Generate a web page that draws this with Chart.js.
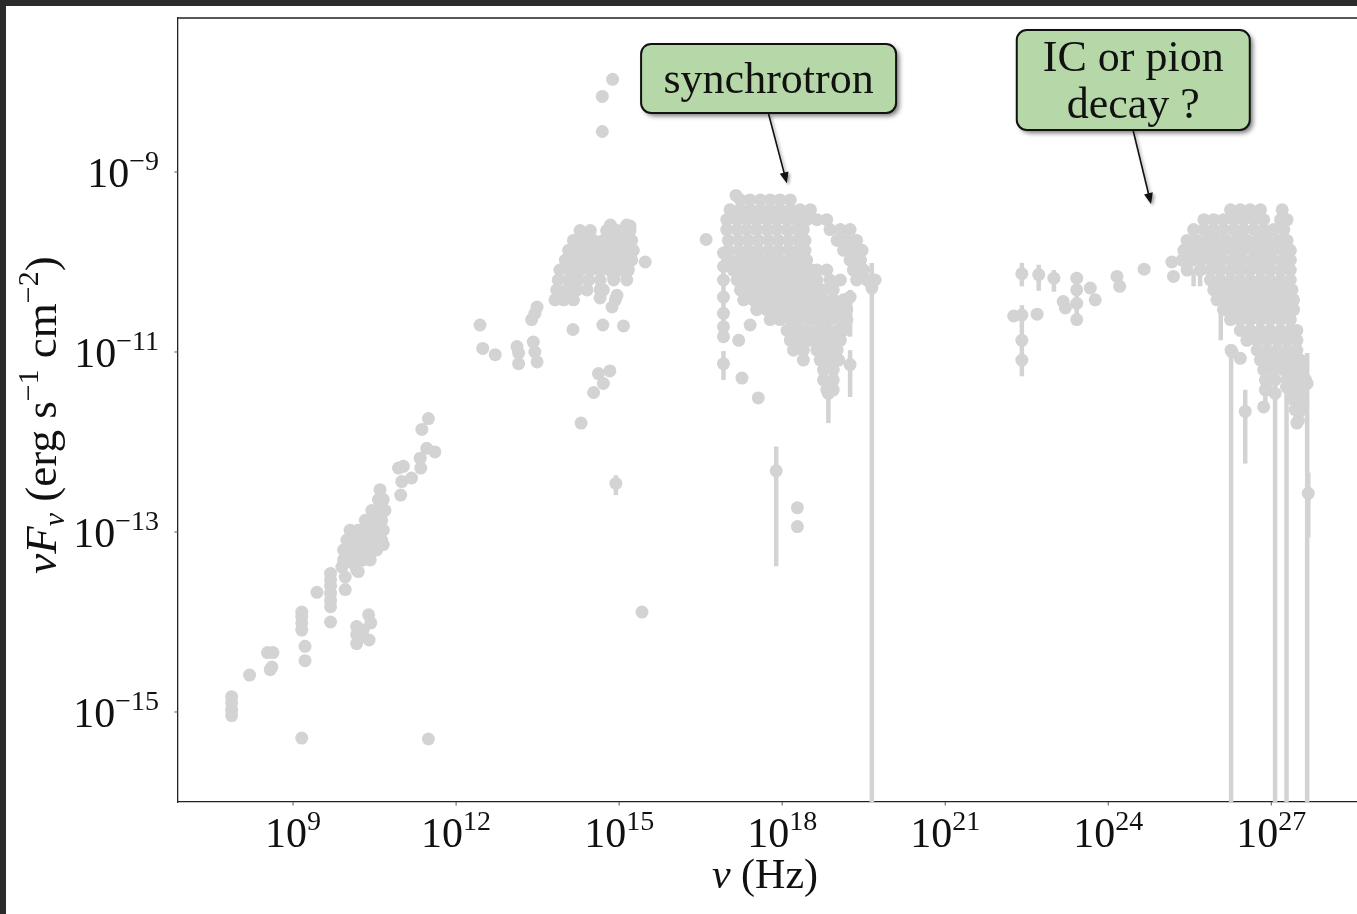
<!DOCTYPE html>
<html>
<head>
<meta charset="utf-8">
<script src="https://cdn.jsdelivr.net/npm/chart.js@4.4.1/dist/chart.umd.min.js"></script>
<style>
  html, body { margin: 0; padding: 0; width: 1357px; height: 914px; overflow: hidden; background: #2b2b2b; }
  #panel { position: absolute; left: 6px; top: 6px; width: 1394px; height: 908px; background: #fff; }
  canvas { display: block; }
</style>
</head>
<body>
<div id="panel"><canvas id="sedChart" width="1394" height="908"></canvas></div>
<script>
// all values are log10: [log nu (Hz), log nuFnu (erg s^-1 cm^-2)]
const radio = [
  [7.87,-14.83],[7.87,-14.90],[7.87,-14.98],[7.87,-15.04],[8.20,-14.59],
  [8.53,-14.34],[8.63,-14.34],[8.58,-14.53],[8.61,-14.50],
  [9.16,-13.89],[9.16,-13.94],[9.16,-14.01],[9.16,-14.09],[9.22,-14.27],[9.22,-14.43],[9.16,-15.29],
  [9.44,-13.67],[9.69,-13.46],[9.69,-13.53],[9.69,-13.60],[9.69,-13.68],[9.69,-13.76],[9.69,-13.83],[9.69,-14.00],
  [9.93,-13.35],[9.96,-13.50],[9.96,-13.64],
  [10.60,-12.53],[10.57,-12.64],[10.66,-12.64],[10.45,-12.76],[10.60,-12.76],[10.69,-12.76],
  [10.33,-12.87],[10.48,-12.87],[10.63,-12.87],
  [10.05,-12.98],[10.20,-12.98],[10.36,-12.98],[10.51,-12.98],[10.66,-12.98],
  [9.99,-13.09],[10.14,-13.09],[10.29,-13.09],[10.45,-13.09],[10.63,-13.09],
  [9.93,-13.20],[10.08,-13.20],[10.23,-13.20],[10.39,-13.20],[10.54,-13.20],
  [9.93,-13.31],[10.11,-13.31],[10.29,-13.31],[10.42,-13.31],
  [10.17,-13.42],[10.20,-13.44],[10.11,-13.35],[9.90,-13.39],[10.66,-13.14],[10.36,-13.27],
  [10.17,-14.05],[10.17,-14.14],[10.17,-14.24],[10.39,-13.92],[10.43,-14.01],[10.40,-14.20],[10.29,-14.09],[10.22,-14.18],
  [10.94,-12.29],[11.03,-12.27],[11.00,-12.44],[10.98,-12.59],[11.18,-12.40],
  [11.34,-12.18],[11.35,-12.29],[11.46,-12.07],[11.61,-12.11],[11.37,-11.86],[11.49,-11.74],
  [11.49,-15.30]
];

const infraredOptical = [
  [12.44,-10.70],[12.49,-10.96],[12.72,-11.03],
  [13.12,-10.94],[13.15,-11.01],[13.15,-11.13],
  [13.42,-10.89],[13.45,-11.00],[13.49,-11.11],
  [13.49,-10.50],[13.45,-10.57],[13.39,-10.64],
  [14.15,-10.75],[14.70,-10.70],[15.08,-10.71],
  [14.62,-11.24],[14.83,-11.21],[14.71,-11.35],[14.53,-11.45],[14.30,-11.79],
  [14.94,-12.46],[15.42,-13.89],
  [14.88,-7.97],[14.69,-8.16],[14.69,-8.55],
  [15.48,-10.00],
  [14.84,-9.59],[15.14,-9.59],[15.20,-9.60],
  [14.28,-9.65],[14.47,-9.65],[14.77,-9.65],[14.96,-9.65],[15.08,-9.65],[15.20,-9.65],
  [14.16,-9.76],[14.34,-9.76],[14.53,-9.76],[14.71,-9.76],[14.90,-9.76],[15.08,-9.76],[15.23,-9.76],
  [14.07,-9.87],[14.25,-9.87],[14.44,-9.87],[14.62,-9.87],[14.80,-9.87],[14.99,-9.87],[15.17,-9.87],[15.26,-9.87],
  [14.01,-9.98],[14.19,-9.98],[14.38,-9.98],[14.56,-9.98],[14.74,-9.98],[14.93,-9.98],[15.11,-9.98],[15.23,-9.98],
  [13.91,-10.09],[14.10,-10.09],[14.28,-10.09],[14.47,-10.09],[14.65,-10.09],[14.83,-10.09],[15.02,-10.09],[15.17,-10.09],
  [13.88,-10.20],[14.07,-10.20],[14.25,-10.20],[14.44,-10.20],[14.65,-10.20],[14.90,-10.20],[15.14,-10.20],
  [13.85,-10.31],[14.04,-10.31],[14.22,-10.31],[14.41,-10.31],[14.65,-10.31],[14.71,-10.31],
  [13.82,-10.42],[13.98,-10.42],[14.16,-10.42],[14.65,-10.40],
  [14.96,-10.37],[14.93,-10.42],[14.87,-10.50],[14.90,-10.16]
];

const xray = [
  [16.60,-9.75],[17.15,-9.26],[17.41,-10.70],[17.20,-10.87],[17.26,-11.29],[17.56,-11.51],
  [16.92,-9.90],[16.92,-10.05],[16.92,-10.20],[16.92,-10.39],[16.92,-10.57],[16.92,-10.72],[16.92,-10.83],[16.92,-11.13],
  [17.89,-12.32],[18.28,-12.73],[18.28,-12.94],
  [19.25,-10.39],[19.25,-11.14],[18.85,-11.46],[19.65,-10.29],
  [17.23,-9.31],[17.41,-9.31],[17.60,-9.31],[17.78,-9.31],[17.96,-9.31],[18.15,-9.31],
  [17.04,-9.42],[17.23,-9.42],[17.41,-9.42],[17.60,-9.42],[17.78,-9.42],[17.96,-9.42],[18.15,-9.42],[18.33,-9.42],[18.52,-9.42],
  [16.98,-9.53],[17.17,-9.53],[17.35,-9.53],[17.53,-9.53],[17.72,-9.53],[17.90,-9.53],[18.09,-9.53],[18.27,-9.53],[18.45,-9.53],[18.64,-9.53],[18.82,-9.53],
  [16.98,-9.64],[17.17,-9.64],[17.35,-9.64],[17.53,-9.64],[17.72,-9.64],[17.90,-9.64],[18.09,-9.64],[18.27,-9.64],[18.39,-9.64],[18.88,-9.64],[19.07,-9.64],[19.25,-9.64],
  [17.01,-9.76],[17.20,-9.76],[17.38,-9.76],[17.56,-9.76],[17.75,-9.76],[17.93,-9.76],[18.12,-9.76],[18.30,-9.76],[18.42,-9.76],[19.01,-9.76],[19.19,-9.76],[19.37,-9.76],
  [17.01,-9.87],[17.20,-9.87],[17.38,-9.87],[17.56,-9.87],[17.75,-9.87],[17.93,-9.87],[18.12,-9.87],[18.30,-9.87],[18.42,-9.87],[19.13,-9.87],[19.31,-9.87],[19.47,-9.87],
  [17.04,-9.98],[17.23,-9.98],[17.41,-9.98],[17.60,-9.98],[17.78,-9.98],[17.96,-9.98],[18.15,-9.98],[18.33,-9.98],[18.45,-9.98],[19.25,-9.98],[19.44,-9.98],
  [17.10,-10.09],[17.29,-10.09],[17.47,-10.09],[17.66,-10.09],[17.84,-10.09],[18.02,-10.09],[18.21,-10.09],[18.39,-10.09],[18.52,-10.09],[18.64,-10.09],[18.82,-10.09],[19.31,-10.09],[19.50,-10.09],
  [17.17,-10.20],[17.35,-10.20],[17.53,-10.20],[17.72,-10.20],[17.90,-10.20],[18.09,-10.20],[18.27,-10.20],[18.45,-10.20],[18.64,-10.20],[18.88,-10.20],[19.07,-10.20],[19.37,-10.20],[19.56,-10.20],[19.71,-10.20],
  [17.23,-10.31],[17.41,-10.31],[17.60,-10.31],[17.78,-10.31],[17.96,-10.31],[18.15,-10.31],[18.33,-10.31],[18.52,-10.31],[18.64,-10.31],[18.76,-10.31],[18.94,-10.31],
  [17.29,-10.42],[17.47,-10.42],[17.66,-10.42],[17.84,-10.42],[18.02,-10.42],[18.21,-10.42],[18.39,-10.42],[18.58,-10.42],[18.76,-10.42],[18.94,-10.42],[19.13,-10.42],
  [17.53,-10.53],[17.72,-10.53],[17.90,-10.53],[18.09,-10.53],[18.27,-10.53],[18.45,-10.53],[18.64,-10.53],[18.82,-10.53],[19.01,-10.53],[19.19,-10.53],
  [17.78,-10.64],[17.96,-10.64],[18.15,-10.64],[18.33,-10.64],[18.52,-10.64],[18.70,-10.64],[18.88,-10.64],[19.07,-10.64],[19.19,-10.64],
  [18.09,-10.76],[18.27,-10.76],[18.45,-10.76],[18.64,-10.76],[18.82,-10.76],[19.01,-10.76],[19.13,-10.76],
  [18.15,-10.87],[18.33,-10.87],[18.52,-10.87],[18.70,-10.87],[18.88,-10.87],[19.07,-10.87],
  [18.21,-10.98],[18.39,-10.98],[18.64,-10.98],[18.82,-10.98],[19.01,-10.98],
  [18.39,-11.09],[18.70,-11.09],[18.88,-11.09],[19.04,-11.09],
  [18.76,-11.20],[18.94,-11.20],[18.76,-11.31],[18.94,-11.31],[18.82,-11.42],[18.94,-11.42]
];

const gamma = [
  [22.41,-10.13],[22.72,-10.14],[23.00,-10.18],[23.42,-10.18],[23.42,-10.31],[23.42,-10.46],[23.42,-10.64],
  [23.17,-10.44],[23.21,-10.51],[23.67,-10.29],[23.76,-10.42],[24.16,-10.16],[24.21,-10.27],[24.66,-10.08],
  [25.17,-10.00],[25.20,-10.16],[22.26,-10.60],[22.41,-10.59],[22.41,-10.87],[22.41,-11.09],[22.69,-10.58],
  [26.25,-9.42],[26.43,-9.42],[26.61,-9.42],[26.80,-9.42],[27.20,-9.42],
  [25.76,-9.53],[25.94,-9.53],[26.12,-9.53],[26.31,-9.53],[26.49,-9.53],[26.68,-9.53],[26.86,-9.53],[27.17,-9.53],[27.29,-9.53],
  [25.57,-9.64],[25.76,-9.64],[25.94,-9.64],[26.12,-9.64],[26.31,-9.64],[26.49,-9.64],[26.68,-9.64],[26.86,-9.64],[27.04,-9.64],[27.23,-9.64],
  [25.45,-9.76],[25.63,-9.76],[25.82,-9.76],[26.00,-9.76],[26.18,-9.76],[26.37,-9.76],[26.55,-9.76],[26.74,-9.76],[26.92,-9.76],[27.11,-9.76],[27.29,-9.76],
  [25.39,-9.87],[25.57,-9.87],[25.76,-9.87],[25.94,-9.87],[26.12,-9.87],[26.31,-9.87],[26.49,-9.87],[26.68,-9.87],[26.86,-9.87],[27.04,-9.87],[27.23,-9.87],[27.35,-9.87],
  [25.36,-9.98],[25.54,-9.98],[25.72,-9.98],[25.91,-9.98],[26.09,-9.98],[26.28,-9.98],[26.46,-9.98],[26.65,-9.98],[26.83,-9.98],[27.01,-9.98],[27.20,-9.98],[27.35,-9.98],
  [25.45,-10.09],[25.69,-10.09],[25.88,-10.09],[26.06,-10.09],[26.25,-10.09],[26.43,-10.09],[26.61,-10.09],[26.80,-10.09],[26.98,-10.09],[27.17,-10.09],[27.35,-10.09],
  [25.88,-10.20],[26.06,-10.20],[26.25,-10.20],[26.43,-10.20],[26.61,-10.20],[26.80,-10.20],[26.98,-10.20],[27.17,-10.20],[27.35,-10.20],
  [25.94,-10.31],[26.12,-10.31],[26.31,-10.31],[26.49,-10.31],[26.68,-10.31],[26.86,-10.31],[27.04,-10.31],[27.23,-10.31],[27.38,-10.31],
  [26.00,-10.42],[26.18,-10.42],[26.37,-10.42],[26.55,-10.42],[26.74,-10.42],[26.92,-10.42],[27.11,-10.42],[27.29,-10.42],[27.41,-10.42],
  [26.12,-10.53],[26.31,-10.53],[26.49,-10.53],[26.68,-10.53],[26.86,-10.53],[27.04,-10.53],[27.23,-10.53],[27.41,-10.53],
  [26.25,-10.64],[26.43,-10.64],[26.61,-10.64],[26.80,-10.64],[26.98,-10.64],[27.17,-10.64],[27.35,-10.64],
  [26.43,-10.76],[26.61,-10.76],[26.80,-10.76],[26.98,-10.76],[27.17,-10.76],[27.35,-10.76],[27.47,-10.76],
  [26.55,-10.87],[26.74,-10.87],[26.92,-10.87],[27.11,-10.87],[27.29,-10.87],[27.47,-10.87],
  [26.74,-10.98],[26.92,-10.98],[27.11,-10.98],[27.29,-10.98],[27.47,-10.98],
  [26.80,-11.09],[26.98,-11.09],[27.17,-11.09],[27.35,-11.09],[27.53,-11.09],
  [26.86,-11.20],[27.04,-11.20],[27.23,-11.20],[27.41,-11.20],[27.56,-11.20],
  [26.89,-11.31],[27.07,-11.31],[27.29,-11.31],[27.47,-11.31],[27.63,-11.31],
  [26.92,-11.42],[27.35,-11.42],[27.53,-11.42],[27.41,-11.53],[27.53,-11.53],[27.44,-11.64],[27.56,-11.64],[27.50,-11.76],
  [26.28,-11.00],[26.43,-11.07],[26.52,-11.66],[26.26,-10.98],[27.07,-11.46],[27.28,-11.39],[27.66,-11.35],
  [27.68,-12.57],[26.89,-11.42],[26.86,-11.61],[27.44,-11.50],[27.47,-11.79]
];

// [log nu, log lower, log upper]
const errorBars = [
  [14.94,-12.59,-12.37],[16.92,-10.90,-9.88],[16.92,-11.31,-10.99],[17.89,-13.38,-12.05],
  [19.25,-10.83,-10.31],[19.25,-11.50,-10.98],[18.85,-11.79,-11.42],[18.39,-11.13,-10.98],
  [19.65,-17,-10.01],
  [22.41,-10.27,-10.01],[22.72,-10.32,-10.03],[23.00,-10.33,-10.09],[23.42,-10.68,-10.11],[22.41,-11.27,-10.48],
  [26.07,-10.87,-10.46],[26.26,-17,-10.98],[26.52,-12.24,-11.42],[27.07,-17,-11.30],[27.28,-17,-11.12],
  [27.66,-17,-11.01],[27.68,-13.06,-12.34],[27.20,-9.95,-9.37],[26.89,-11.64,-11.42],
  [25.57,-10.27,-10.09],[25.69,-10.27,-10.09]
];

const xTickExps = [9, 12, 15, 18, 21, 24, 27];
const yTickExps = [-9, -11, -13, -15];
const xRangeExp = [6.883, 29];
const yRangeExp = [-16, -7.289];

const pointColor = '#d3d3d3';
const serif = '"Liberation Serif", "DejaVu Serif", serif';

const toPoints = arr => arr.map(([nu, f]) => ({ x: 10 ** nu, y: 10 ** f }));

// annotation boxes anchored in data coordinates (box centre and arrow tip)
const notes = [
  { lines: ['synchrotron'], box: [17.75, -7.961], w: 255, h: 69, base: [14.5], tip: [18.087, -9.126] },
  { lines: ['IC or pion', 'decay ?'], box: [24.46, -7.978], w: 233, h: 100, base: [-9, 38], tip: [24.787, -9.356] }
];

function drawPieces(ctx, pieces, cx, baseline) {
  let total = 0;
  pieces.forEach(p => { ctx.font = p.font; p.w = ctx.measureText(p.text).width; total += p.w; });
  let x = cx - total / 2;
  pieces.forEach(p => {
    ctx.font = p.font;
    ctx.fillText(p.text, x, baseline + (p.dy || 0));
    x += p.w;
  });
}

function powerPieces(exp) {
  const e = exp < 0 ? '\u2212' + Math.abs(exp) : String(exp);
  return [
    { text: '10', font: '42px ' + serif },
    { text: e, font: '28px ' + serif, dy: -17 }
  ];
}

const errorBarPlugin = {
  id: 'errorBars',
  beforeDatasetsDraw(chart) {
    const { ctx, chartArea: a, scales: { x, y } } = chart;
    ctx.save();
    ctx.beginPath();
    ctx.rect(a.left, a.top, a.right - a.left, a.bottom - a.top);
    ctx.clip();
    ctx.strokeStyle = pointColor;
    ctx.lineWidth = 4.5;
    errorBars.forEach(([nu, lo, hi]) => {
      const px = x.getPixelForValue(10 ** nu);
      ctx.beginPath();
      ctx.moveTo(px, y.getPixelForValue(10 ** lo));
      ctx.lineTo(px, y.getPixelForValue(10 ** hi));
      ctx.stroke();
    });
    ctx.restore();
  }
};

const axesPlugin = {
  id: 'axesText',
  afterDraw(chart) {
    const { ctx, chartArea: a, scales: { x, y } } = chart;
    ctx.save();
    // top and right spines
    ctx.strokeStyle = '#222';
    ctx.lineWidth = 1.3;
    ctx.beginPath();
    ctx.moveTo(a.left, a.top);
    ctx.lineTo(a.right, a.top);
    ctx.lineTo(a.right, a.bottom);
    ctx.stroke();

    ctx.fillStyle = '#111';
    ctx.strokeStyle = '#555';
    ctx.lineWidth = 1;
    ctx.textBaseline = 'alphabetic';
    ctx.textAlign = 'left';

    xTickExps.forEach(e => {
      const px = x.getPixelForValue(10 ** e);
      ctx.beginPath(); ctx.moveTo(px, a.bottom); ctx.lineTo(px, a.bottom + 3.5); ctx.stroke();
      drawPieces(ctx, powerPieces(e), px, a.bottom + 45);
    });

    yTickExps.forEach(e => {
      const py = y.getPixelForValue(10 ** e);
      ctx.beginPath(); ctx.moveTo(a.left, py); ctx.lineTo(a.left - 3.5, py); ctx.stroke();
      const pcs = powerPieces(e);
      let total = 0;
      pcs.forEach(p => { ctx.font = p.font; total += ctx.measureText(p.text).width; });
      drawPieces(ctx, pcs, a.left - 19 - total / 2, py + 15);
    });

    // x title
    drawPieces(ctx, [
      { text: '\u03bd', font: 'italic 42px ' + serif },
      { text: ' (Hz)', font: '42px ' + serif }
    ], a.left + 587, a.bottom + 86);

    // y title
    ctx.translate(a.left - 122, a.top + 397);
    ctx.rotate(-Math.PI / 2);
    drawPieces(ctx, [
      { text: '\u03bd', font: 'italic 45px ' + serif },
      { text: 'F', font: 'italic 45px ' + serif },
      { text: '\u03bd', font: 'italic 30px ' + serif, dy: 8 },
      { text: ' (erg s', font: '45px ' + serif },
      { text: '\u22121', font: '30px ' + serif, dy: -18 },
      { text: ' cm', font: '45px ' + serif },
      { text: '\u22122', font: '30px ' + serif, dy: -18 },
      { text: ')', font: '45px ' + serif }
    ], 0, 0);
    ctx.restore();
  }
};

const notesPlugin = {
  id: 'notes',
  afterDraw(chart) {
    const { ctx, scales: { x, y } } = chart;
    notes.forEach(n => {
      const cx = x.getPixelForValue(10 ** n.box[0]);
      const cy = y.getPixelForValue(10 ** n.box[1]);
      const left = cx - n.w / 2, top = cy - n.h / 2;
      ctx.save();
      ctx.shadowColor = 'rgba(0,0,0,0.55)';
      ctx.shadowBlur = 5;
      ctx.shadowOffsetX = 3;
      ctx.shadowOffsetY = 3;
      ctx.fillStyle = '#b6d7a8';
      ctx.beginPath();
      ctx.roundRect(left, top, n.w, n.h, 10);
      ctx.fill();
      ctx.restore();

      ctx.save();
      ctx.strokeStyle = '#111';
      ctx.lineWidth = 2;
      ctx.beginPath();
      ctx.roundRect(left, top, n.w, n.h, 10);
      ctx.stroke();

      ctx.fillStyle = '#111';
      ctx.font = '44px ' + serif;
      ctx.textAlign = 'center';
      ctx.textBaseline = 'alphabetic';
      n.lines.forEach((t, i) => ctx.fillText(t, cx, cy + n.base[i]));

      // arrow from the bottom of the box to the tip
      const tx = x.getPixelForValue(10 ** n.tip[0]);
      const ty = y.getPixelForValue(10 ** n.tip[1]);
      const sx = cx, sy = top + n.h + 1;
      const ang = Math.atan2(ty - sy, tx - sx);
      ctx.shadowColor = 'rgba(0,0,0,0.35)';
      ctx.shadowBlur = 3;
      ctx.shadowOffsetX = 2;
      ctx.shadowOffsetY = 2;
      ctx.lineWidth = 1.6;
      ctx.beginPath();
      ctx.moveTo(sx, sy);
      ctx.lineTo(tx - 8 * Math.cos(ang), ty - 8 * Math.sin(ang));
      ctx.stroke();
      ctx.beginPath();
      ctx.moveTo(tx, ty);
      ctx.lineTo(tx - 11 * Math.cos(ang) + 4.5 * Math.sin(ang), ty - 11 * Math.sin(ang) - 4.5 * Math.cos(ang));
      ctx.lineTo(tx - 11 * Math.cos(ang) - 4.5 * Math.sin(ang), ty - 11 * Math.sin(ang) + 4.5 * Math.cos(ang));
      ctx.closePath();
      ctx.fill();
      ctx.restore();
    });
  }
};

const dataset = (label, arr) => ({
  label,
  data: toPoints(arr),
  pointRadius: 6.5,
  pointHoverRadius: 6.5,
  pointBackgroundColor: pointColor,
  pointBorderWidth: 0,
  borderColor: pointColor,
  showLine: false
});

const ctxSed = document.getElementById('sedChart').getContext('2d');
const sedChart = new Chart(ctxSed, {
  type: 'scatter',
  data: {
    datasets: [
      dataset('Radio', radio),
      dataset('IR/Optical', infraredOptical),
      dataset('X-ray', xray),
      dataset('Gamma-ray', gamma)
    ]
  },
  options: {
    responsive: false,
    animation: false,
    devicePixelRatio: 1,
    layout: { padding: { left: 172, top: 12, right: 20, bottom: 112 } },
    plugins: { legend: { display: false }, tooltip: { enabled: false } },
    scales: {
      x: {
        type: 'logarithmic',
        min: 10 ** xRangeExp[0],
        max: 10 ** xRangeExp[1],
        ticks: { display: false },
        grid: { display: false, drawTicks: false },
        border: { display: true, color: '#222', width: 1.3 },
        afterFit: s => { s.height = 0; }
      },
      y: {
        type: 'logarithmic',
        min: 10 ** yRangeExp[0],
        max: 10 ** yRangeExp[1],
        ticks: { display: false },
        grid: { display: false, drawTicks: false },
        border: { display: true, color: '#222', width: 1.3 },
        afterFit: s => { s.width = 0; }
      }
    }
  },
  plugins: [errorBarPlugin, axesPlugin, notesPlugin]
});
</script>
</body>
</html>
